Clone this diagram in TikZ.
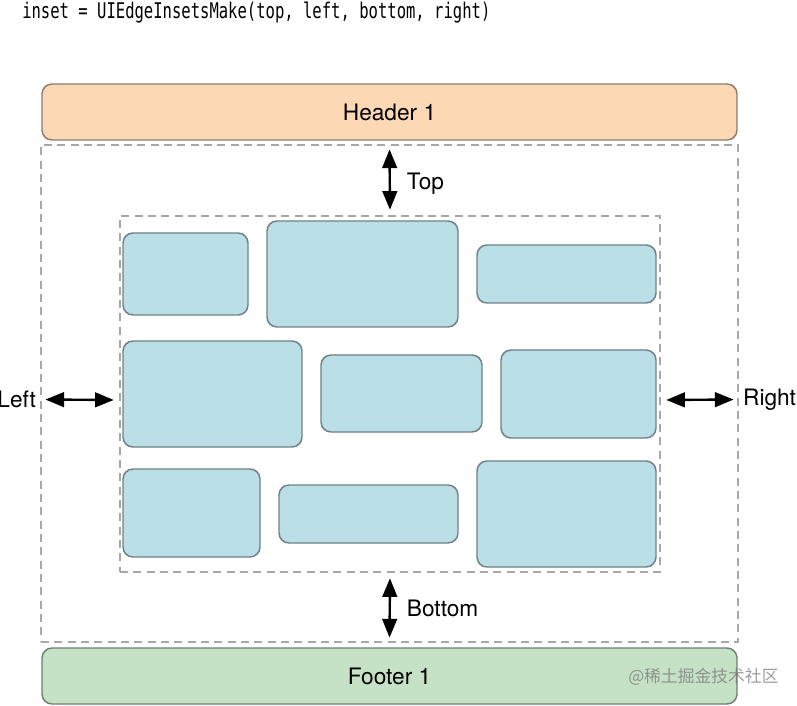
\documentclass[tikz,border=0pt]{standalone}
\usepackage{fontspec}
\setmainfont{TeX Gyre Heros}
\newfontfamily\codefont[FakeStretch=0.72]{DejaVu Sans Mono}
\newfontfamily\cjkfont{Noto Sans CJK SC}
\usetikzlibrary{arrows.meta,positioning}

\definecolor{headerfill}{HTML}{FCD9B4}
\definecolor{headerdraw}{HTML}{8B7D6B}
\definecolor{footerfill}{HTML}{C6E2C6}
\definecolor{footerdraw}{HTML}{6E806E}
\definecolor{cellfill}{HTML}{BADFE7}
\definecolor{celldraw}{HTML}{6F8187}
\definecolor{dashgray}{HTML}{A8A8A8}

\tikzset{
  box/.style={draw, rounded corners=7.5pt, line width=1.1pt, inner sep=0pt},
  bar/.style={box, minimum width=521.25pt, minimum height=42pt, font=\fontsize{17}{20}\selectfont},
  cell/.style={box, draw=celldraw, fill=cellfill},
  margin/.style={draw=dashgray, dash pattern=on 6pt off 4pt, line width=1.4pt, inner sep=0pt},
  inset/.style={<->, >={Triangle[length=14pt,width=11pt]}, line width=1.8pt, shorten <=4pt, shorten >=4pt},
  side/.style={inner sep=0pt, font=\fontsize{17}{20}\selectfont}
}

\begin{document}
\begin{tikzpicture}[x=0.75pt, y=-0.75pt]
	\useasboundingbox (0,0) rectangle (797,706);

	\node[anchor=base west, inner sep=0pt, font=\codefont\fontsize{16.2}{19}\selectfont] (code) at (22,18.5)
	     {inset = UIEdgeInsetsMake(top, left, bottom, right)};

	\path (389.5, 393.5) node[margin, minimum width=522.75pt, minimum height=372.75pt] (outer) {}
	      (390, 394)     node[margin, minimum width=405pt, minimum height=267pt] (inner) {};

	\path (389.5, 112) node[bar, draw=headerdraw, fill=headerfill] (header) {Header 1}
	      (389.5, 676) node[bar, draw=footerdraw, fill=footerfill] (footer) {Footer 1};

	% cells: name/x/y/width/height in px
	\foreach \n/\x/\y/\w/\h in {1/185.5/274/125/82, 2/362.5/274/191/106, 3/566.5/274/179/58,
	                            4/212.5/394/179/106, 5/401.5/393.5/161/77, 6/578.5/394/155/88,
	                            7/191.5/513/137/88, 8/368.5/514/179/58, 9/566.5/514/179/106}
		\node[cell, minimum width=\w*0.75pt, minimum height=\h*0.75pt] (cell\n) at (\x,\y) {};

	\draw[inset] (outer.north) -- (inner.north)
	     node[side, midway, right=12pt, yshift=-3pt] (top) {Top};
	\draw[inset] (inner.south) -- (outer.south)
	     node[side, midway, right=12pt] (bottom) {Bottom};
	\draw[inset] ([yshift=-4.5pt]outer.west) -- ([yshift=-4.5pt]inner.west)
	     node[side, at start, left=2.25pt] (left) {Left};
	\draw[inset] ([yshift=-4.5pt]inner.east) -- ([yshift=-4.5pt]outer.east)
	     node[side, at end, right=2.25pt] (right) {Right};

	\node[anchor=west, inner sep=0pt, text=black!55, opacity=0.7, font=\cjkfont\fontsize{12.6}{15}\selectfont]
	     (mark) at (628,677) {@稀土掘金技术社区};
\end{tikzpicture}
\end{document}
